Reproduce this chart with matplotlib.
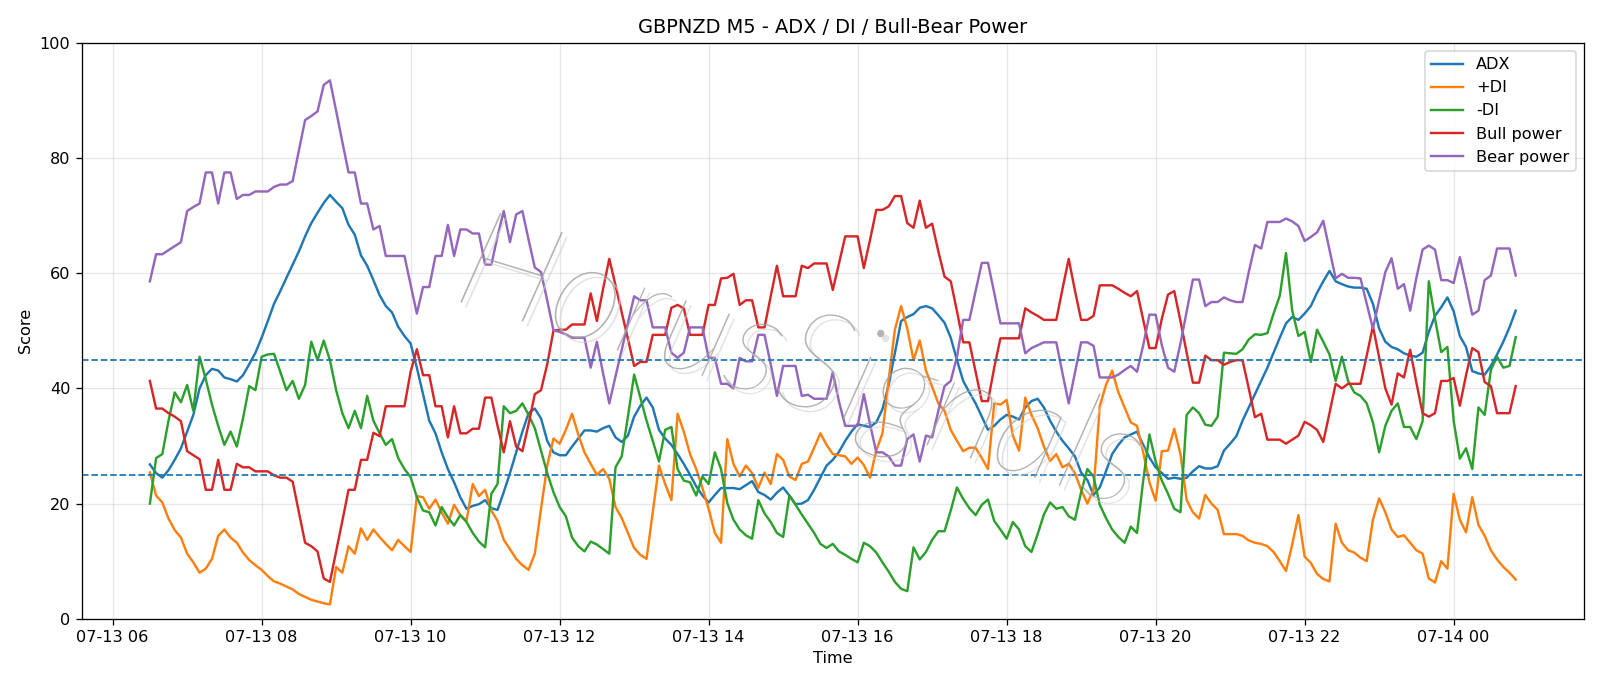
import pandas as pd
import matplotlib
matplotlib.use('Agg')
import matplotlib.pyplot as plt
import matplotlib.dates as mdates
import matplotlib.patheffects as pe

# ----------------------------------------------------------------------
# DATA (GBPNZD M5, 07-13 06:30 -> 07-14 00:50)
# ----------------------------------------------------------------------
START = '2024-07-13 06:30'
N_BARS = 221

adx = [
    26.8, 25.3, 24.5, 25.8, 27.6, 29.6, 32.5, 35.4, 40.0, 42.3,
    43.4, 43.1, 41.9, 41.6, 41.2, 42.3, 44.2, 46.2, 48.8, 51.7,
    54.7, 56.9, 59.2, 61.5, 63.8, 66.4, 68.7, 70.5, 72.2, 73.6,
    72.4, 71.3, 68.4, 66.7, 63.1, 61.3, 58.8, 56.2,
    54.3, 53.2, 50.7, 49.1, 47.8, 43.6, 39.0, 34.4, 32.2, 28.9,
    26.0, 23.7, 21.1, 19.1, 19.6, 19.9, 20.6, 19.2, 18.9, 22.0,
    25.3, 28.9, 32.5, 35.7, 36.5, 34.8, 30.9, 28.9, 28.4, 28.4,
    29.9, 31.3, 32.7, 32.7, 32.5, 33.1, 33.5,
    31.5, 30.7, 31.8, 35.1, 37.0, 38.4, 36.7, 32.8, 31.3, 30.2,
    28.6, 26.9, 25.0, 23.0, 21.4, 20.2, 21.5, 22.7, 22.7, 22.7,
    22.5, 23.2, 23.9, 22.0, 21.5, 20.7, 21.9, 22.8, 21.4, 19.9,
    20.0, 20.6, 22.4, 24.5, 26.6, 27.6, 29.0,
    30.9, 32.5, 33.8, 33.5, 33.3, 34.1, 36.4, 40.6, 46.2, 51.7,
    52.4, 52.9, 54.0, 54.3, 53.9, 52.7, 51.4, 48.8, 44.9, 41.3,
    39.3, 37.4, 35.1, 32.8, 33.5, 34.6, 35.4, 35.1, 34.6, 36.7,
    37.8, 38.2, 36.7, 34.4, 32.5, 30.9, 29.6,
    28.2, 25.4, 24.1, 21.5, 22.8, 25.6, 28.6, 30.2, 31.5, 32.0,
    32.5, 30.2, 28.0, 26.3, 25.3, 24.3, 24.5, 24.3, 24.5, 25.6,
    26.5, 26.1, 26.1, 26.5, 29.2, 30.4, 31.7, 34.4, 36.7, 39.0,
    41.3, 43.6, 46.2, 48.8, 51.3, 52.4, 51.9,
    53.0, 54.3, 56.6, 58.6, 60.4, 58.6, 58.1, 57.7, 57.5, 57.5,
    57.3, 54.7, 50.4, 48.1, 47.2, 46.8, 46.1, 45.7, 45.5, 46.2,
    49.8, 52.6, 54.1, 55.8, 53.4, 49.1, 47.2, 43.0, 42.6, 42.4,
    43.9, 45.9, 48.1, 50.6, 53.5,
]

plus_di = [
    25.4, 21.4, 20.2, 17.4, 15.4, 14.1, 11.3, 9.8, 8.0, 8.7,
    10.4, 14.4, 15.5, 14.1, 13.2, 11.5, 10.2, 9.3, 8.5, 7.4,
    6.5, 6.1, 5.6, 5.1, 4.3, 3.8, 3.3, 3.0, 2.7, 2.5,
    9.0, 8.0, 12.6, 11.3, 15.7, 13.7, 15.5, 14.2,
    13.0, 11.9, 13.7, 12.6, 11.6, 21.3, 21.1, 19.1, 20.7, 18.5,
    16.5, 19.8, 18.0, 17.0, 23.4, 21.3, 22.4, 18.8, 17.0, 13.7,
    12.1, 10.4, 9.3, 8.5, 11.3, 19.1, 26.6, 31.3, 30.4, 32.8,
    35.6, 32.0, 28.9, 26.9, 25.0, 26.0, 24.3,
    19.4, 17.5, 14.9, 12.3, 11.1, 10.4, 18.5, 26.6, 23.4, 20.6,
    35.6, 32.5, 28.6, 26.0, 22.7, 19.1, 14.9, 13.2, 31.2, 26.9,
    24.7, 26.6, 25.3, 22.7, 25.4, 23.4, 28.6, 27.6, 24.7, 24.1,
    26.9, 27.3, 29.7, 32.2, 30.2, 28.6, 28.4,
    28.2, 26.9, 28.0, 26.7, 24.5, 29.2, 32.2, 41.5, 50.2, 54.3,
    50.4, 44.9, 48.3, 43.1, 40.3, 37.4, 36.1, 32.8, 30.9, 29.1,
    29.7, 29.7, 27.9, 26.0, 37.4, 37.2, 38.0, 31.8, 29.2, 38.4,
    35.4, 33.1, 29.9, 27.4, 28.6, 26.3, 26.9,
    25.3, 22.4, 20.0, 22.4, 36.9, 40.6, 43.1, 39.3, 36.7, 34.1,
    33.5, 28.9, 23.7, 20.5, 29.1, 29.2, 33.0, 28.6, 20.6, 18.5,
    17.4, 21.5, 20.0, 18.9, 14.7, 14.7, 14.7, 14.4, 13.6, 13.2,
    13.0, 12.6, 11.6, 10.0, 8.3, 12.9, 18.0,
    10.8, 9.7, 7.8, 6.9, 6.5, 16.5, 13.2, 11.9, 11.5, 10.6,
    10.0, 17.2, 20.9, 18.5, 15.5, 14.2, 14.5, 13.2, 11.9, 11.3,
    7.0, 6.3, 10.0, 8.7, 21.7, 17.2, 15.0, 21.1, 16.3, 14.4,
    11.9, 10.3, 9.0, 8.0, 6.8,
]

minus_di = [
    20.0, 27.9, 28.6, 34.4, 39.3, 37.6, 40.6, 36.1, 45.5, 41.6,
    37.2, 33.5, 30.2, 32.5, 29.9, 34.8, 40.4, 39.7, 45.5, 45.9,
    46.0, 42.9, 39.7, 41.3, 38.2, 40.6, 48.1, 44.9, 48.3, 44.9,
    39.7, 35.7, 33.1, 36.1, 33.1, 38.7, 34.4, 32.2,
    30.2, 31.2, 27.9, 26.0, 24.6, 21.1, 18.8, 18.5, 16.2, 19.4,
    17.6, 16.2, 18.0, 16.8, 14.9, 13.4, 12.4, 21.7, 23.4, 36.9,
    35.7, 36.1, 37.4, 35.4, 33.1, 29.2, 25.3, 22.0, 19.4, 17.8,
    14.1, 12.6, 11.7, 13.4, 12.9, 12.1, 11.3,
    26.3, 28.2, 35.1, 42.4, 38.4, 34.4, 30.9, 27.3, 32.8, 33.3,
    26.0, 24.0, 23.7, 21.4, 24.7, 23.4, 28.9, 26.0, 20.1, 17.2,
    15.5, 14.5, 13.9, 20.6, 18.3, 16.8, 14.9, 14.2, 21.4, 19.8,
    18.1, 16.5, 14.9, 13.0, 12.3, 13.0, 11.7,
    11.1, 10.4, 9.8, 13.2, 12.6, 11.5, 9.8, 8.2, 6.4, 5.2,
    4.8, 12.4, 10.3, 11.6, 13.7, 15.2, 15.2, 18.8, 22.8, 20.8,
    19.2, 18.0, 19.8, 20.7, 17.0, 15.5, 13.9, 16.8, 15.5, 12.6,
    11.6, 14.7, 18.1, 20.2, 19.1, 19.4, 17.8,
    17.2, 22.0, 26.0, 24.7, 19.8, 17.5, 15.5, 14.2, 13.2, 16.0,
    14.9, 24.0, 32.0, 27.3, 24.0, 21.7, 19.1, 18.5, 35.4, 36.7,
    35.7, 33.7, 33.5, 35.1, 46.2, 46.1, 46.0, 46.8, 48.5, 49.4,
    49.3, 49.6, 53.0, 56.1, 63.5, 53.5, 49.1,
    49.8, 44.6, 50.2, 48.1, 45.9, 41.3, 45.5, 41.3, 39.3, 38.7,
    37.4, 34.1, 28.9, 33.5, 36.1, 37.4, 33.3, 33.3, 31.2, 34.3,
    58.6, 52.1, 46.3, 47.2, 34.4, 27.8, 29.6, 26.0, 36.7, 35.4,
    43.2, 45.5, 43.6, 43.9, 48.9,
]

bull_power = [
    41.3, 36.5, 36.5, 35.7, 35.1, 34.3, 29.1, 28.4, 27.7, 22.4,
    22.4, 27.6, 22.4, 22.4, 26.9, 26.3, 26.3, 25.6, 25.6, 25.6,
    24.9, 24.5, 24.5, 23.8, 18.5, 13.2, 12.6, 11.7, 7.0, 6.4,
    11.7, 17.0, 22.4, 22.4, 27.6, 27.6, 32.3, 31.7,
    36.9, 36.9, 36.9, 36.9, 42.9, 46.8, 42.3, 42.3, 36.9, 36.9,
    31.5, 36.9, 32.2, 32.2, 33.0, 33.0, 38.4, 38.4, 33.5, 28.9,
    34.3, 29.9, 29.1, 33.8, 39.0, 39.7, 44.2, 50.0, 50.2, 50.2,
    51.1, 51.1, 51.1, 56.5, 51.7, 57.3, 62.5,
    57.9, 53.2, 48.6, 43.9, 44.6, 44.6, 49.3, 49.3, 49.3, 54.0,
    54.5, 53.9, 49.3, 49.3, 49.3, 54.5, 54.5, 59.1, 59.2, 59.9,
    54.5, 55.3, 55.3, 50.6, 50.6, 56.0, 61.3, 56.0, 56.0, 56.0,
    61.3, 60.9, 61.7, 61.7, 61.7, 57.1, 61.7,
    66.4, 66.4, 66.4, 60.9, 65.8, 71.0, 71.0, 71.6, 73.4, 73.4,
    68.7, 67.9, 72.6, 67.9, 68.6, 63.8, 59.4, 58.6, 53.4, 48.0,
    48.0, 42.9, 37.8, 37.8, 43.6, 48.7, 48.7, 48.7, 48.7, 53.9,
    53.2, 52.6, 51.9, 51.9, 51.9, 57.3, 62.5,
    57.0, 51.9, 51.9, 52.6, 57.9, 57.9, 57.9, 57.3, 56.6, 56.0,
    56.9, 51.9, 47.0, 47.0, 52.1, 56.3, 56.9, 51.7, 46.2, 41.0,
    41.0, 45.7, 44.9, 44.9, 44.1, 44.6, 44.9, 44.9, 40.0, 35.0,
    35.6, 31.1, 31.1, 31.1, 30.4, 31.1, 31.8,
    34.2, 33.6, 32.8, 30.7, 35.7, 40.8, 40.0, 40.8, 40.8, 40.8,
    45.7, 50.8, 45.4, 40.0, 37.2, 42.6, 41.9, 46.7, 41.0, 35.7,
    35.1, 35.7, 41.3, 41.3, 41.8, 37.0, 42.3, 47.0, 46.3, 41.1,
    40.4, 35.7, 35.7, 35.7, 40.4,
]

bear_power = [
    58.6, 63.3, 63.3, 64.0, 64.7, 65.4, 70.8, 71.5, 72.1, 77.5,
    77.5, 72.1, 77.5, 77.5, 72.9, 73.6, 73.6, 74.2, 74.2, 74.2,
    75.0, 75.4, 75.4, 76.0, 81.3, 86.6, 87.3, 88.1, 92.7, 93.5,
    88.2, 82.8, 77.5, 77.5, 72.1, 72.1, 67.6, 68.2,
    63.0, 63.0, 63.0, 63.0, 58.0, 53.0, 57.6, 57.6, 63.0, 63.0,
    68.4, 63.0, 67.6, 67.6, 66.9, 66.9, 61.5, 61.5, 66.4, 70.8,
    65.4, 70.2, 70.8, 65.8, 61.0, 60.2, 55.3, 50.1, 49.8, 49.4,
    48.8, 48.8, 48.8, 43.6, 48.1, 42.6, 37.4,
    42.1, 46.7, 51.4, 56.0, 55.3, 55.3, 50.6, 50.6, 50.6, 46.2,
    45.3, 46.2, 50.6, 50.6, 50.6, 45.3, 45.3, 40.8, 40.8, 40.0,
    45.3, 44.7, 44.7, 49.3, 49.3, 44.2, 38.7, 43.9, 43.9, 43.9,
    38.7, 38.9, 38.2, 38.2, 38.2, 42.8, 37.7,
    33.5, 33.5, 33.5, 39.0, 33.8, 28.9, 28.9, 28.2, 26.6, 26.6,
    31.2, 32.0, 27.3, 31.8, 31.5, 36.1, 40.4, 41.3, 45.5, 51.9,
    51.9, 56.9, 61.8, 61.8, 56.6, 51.3, 51.3, 51.3, 51.3, 46.1,
    47.0, 47.5, 48.0, 48.0, 48.0, 42.6, 37.4,
    42.7, 48.0, 48.0, 47.4, 41.9, 41.9, 41.9, 42.4, 43.2, 43.9,
    42.9, 47.5, 52.8, 52.8, 47.5, 43.6, 42.9, 47.8, 53.4, 58.9,
    58.9, 54.3, 55.0, 55.0, 55.8, 55.3, 55.0, 55.0, 60.2, 64.9,
    64.3, 68.9, 68.9, 68.9, 69.5, 69.0, 68.2,
    65.6, 66.3, 67.1, 69.1, 64.1, 59.1, 59.9, 59.2, 59.2, 59.1,
    54.7, 50.4, 55.3, 60.2, 62.6, 57.3, 58.1, 53.5, 59.2, 64.1,
    64.8, 64.1, 58.8, 58.8, 58.3, 62.8, 57.9, 52.8, 53.5, 58.8,
    59.6, 64.3, 64.3, 64.3, 59.6,
]

STRONG_TREND = 45
WEAK_TREND = 25

DPI = 116


def main():
    times = pd.date_range(START, periods=N_BARS, freq='5min')

    fig, ax = plt.subplots(figsize=(1600 / DPI, 686 / DPI), dpi=DPI)
    fig.subplots_adjust(left=0.051, right=0.99, top=0.9375, bottom=0.098)

    # watermark first so the lines sit on top of it
    wm = fig.text(0.500, 0.464, 'HorusSignals', fontsize=86,
                  family=['Lato', 'DejaVu Sans'], fontweight='light',
                  style='italic', color='#a0a0a0', alpha=0.8,
                  rotation=-17, ha='center', va='center', zorder=0.5)
    wm.set_path_effects([pe.SimplePatchShadow(offset=(3, -3), shadow_rgbFace='#d0d0d0',
                                              alpha=0.6),
                         pe.Normal()])

    ax.plot(times, adx, label='ADX', lw=1.5)
    ax.plot(times, plus_di, label='+DI', lw=1.5)
    ax.plot(times, minus_di, label='-DI', lw=1.5)
    ax.plot(times, bull_power, label='Bull power', lw=1.5)
    ax.plot(times, bear_power, label='Bear power', lw=1.5)

    ax.axhline(STRONG_TREND, color='C0', linestyle='--', lw=1.1)
    ax.axhline(WEAK_TREND, color='C0', linestyle='--', lw=1.1)

    ax.set_ylim(0, 100)
    ax.xaxis.set_major_locator(mdates.HourLocator(byhour=range(0, 24, 2)))
    ax.xaxis.set_major_formatter(mdates.DateFormatter('%m-%d %H'))
    ax.grid(True, alpha=0.3)
    ax.set_title('GBPNZD M5 - ADX / DI / Bull-Bear Power')
    ax.set_xlabel('Time')
    ax.set_ylabel('Score')
    ax.legend(loc='upper right')
    ax.patch.set_alpha(0)

    fig.savefig('out.png', dpi=DPI)
    plt.close(fig)


if __name__ == '__main__':
    main()
